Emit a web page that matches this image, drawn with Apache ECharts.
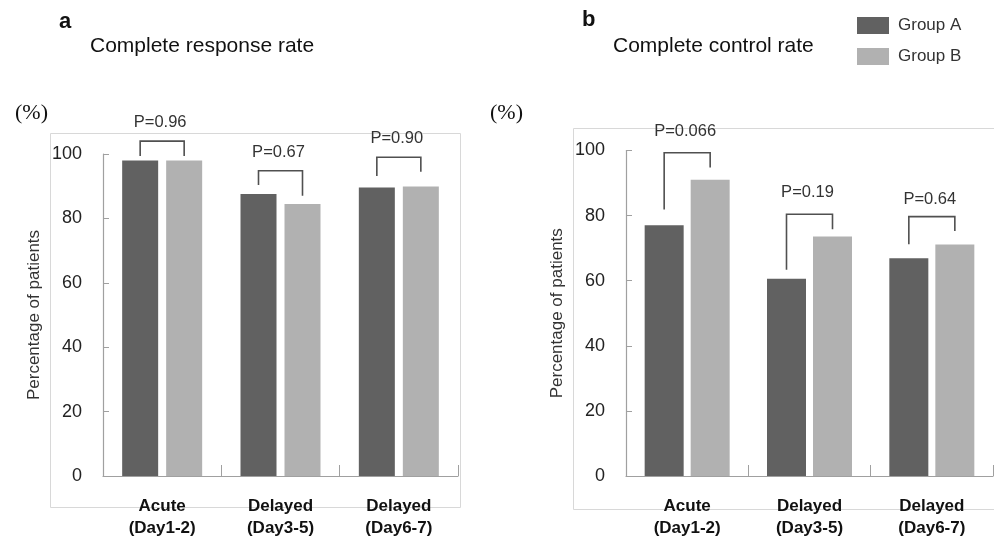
<!DOCTYPE html>
<html>
<head>
<meta charset="utf-8">
<script src="https://cdn.jsdelivr.net/npm/echarts@6/dist/echarts.min.js"></script>
<style>
html,body{margin:0;padding:0;background:#fff;}
#main{width:994px;height:539px;}
</style>
</head>
<body>
<div id="main"></div>
<script>
// ---- data ----
const categories = ['Acute\n(Day1-2)', 'Delayed\n(Day3-5)', 'Delayed\n(Day6-7)'];
const seriesNames = ['Group A', 'Group B'];
const responseA = [98, 87.6, 89.6];
const responseB = [98, 84.5, 89.9];
const controlA = [77, 60.6, 66.9];
const controlB = [91, 73.6, 71.1];
const yMin = 0, yMax = 100, yInterval = 20;

// P-value annotations (bracket levels in % units)
const responsePLabels = ['P=0.96', 'P=0.67', 'P=0.90'];
const responseBracketTop = [104, 94.8, 99.0];
const responseBracketLeftEnd = [99.4, 90.4, 93.2];
const responseBracketRightEnd = [99.4, 87.0, 94.5];
const responsePLabelLevel = [109.7, 100.4, 104.8];

const controlPLabels = ['P=0.066', 'P=0.19', 'P=0.64'];
const controlBracketTop = [99.3, 80.4, 79.7];
const controlBracketLeftEnd = [81.9, 63.4, 71.2];
const controlBracketRightEnd = [94.8, 75.8, 75.3];
const controlPLabelLevel = [105.7, 87.0, 84.9];

// ---- styles ----
const colA = '#616161', colB = '#b1b1b1';
const axisCol = '#a0a0a0';
const sans = 'Liberation Sans, Arial, sans-serif';
const BW_L = 36, GAP_L = 8, BW_R = 39, GAP_R = 7;

function bracketData(top, le, re, lv) {
  return categories.map((c, i) => [i, top[i], le[i], re[i], lv[i]]);
}
function makeRender(labels, bw, gap) {
  return function (params, api) {
    const i = api.value(0);
    const off = (bw + gap) / 2;
    const pTop = api.coord([i, api.value(1)]);
    const yL = api.coord([i, api.value(2)])[1];
    const yR = api.coord([i, api.value(3)])[1];
    const yT = api.coord([i, api.value(4)])[1];
    const cx = pTop[0];
    return {
      type: 'group',
      children: [
        {
          type: 'polyline',
          shape: { points: [[cx - off, yL], [cx - off, pTop[1]], [cx + off, pTop[1]], [cx + off, yR]] },
          style: { stroke: '#505050', lineWidth: 1.6, fill: null }
        },
        {
          type: 'text',
          style: {
            text: labels[params.dataIndex], x: cx - 2, y: yT,
            align: 'center', verticalAlign: 'middle',
            textAlign: 'center', textVerticalAlign: 'middle',
            fontSize: 16.5, fontFamily: sans, fill: '#333'
          }
        }
      ]
    };
  };
}

function xAxisCfg(gi) {
  return {
    type: 'category', gridIndex: gi, data: categories,
    axisLine: { show: true, lineStyle: { color: axisCol, width: 1.2 } },
    axisTick: { show: true, inside: true, length: 11, alignWithLabel: false, lineStyle: { color: axisCol } },
    axisLabel: { fontSize: 17, fontWeight: 'bold', color: '#111', fontFamily: sans, lineHeight: 22, margin: 19 },
    splitLine: { show: false }
  };
}
function yAxisCfg(gi) {
  return {
    type: 'value', gridIndex: gi, min: yMin, max: yMax, interval: yInterval,
    name: 'Percentage of patients', nameLocation: 'middle', nameGap: 60,
    nameTextStyle: { fontSize: 17, color: '#333', fontFamily: sans },
    axisLine: { show: true, lineStyle: { color: axisCol, width: 1.2 } },
    axisTick: { show: true, inside: true, length: 6, lineStyle: { color: axisCol } },
    axisLabel: { fontSize: 18, color: '#222', fontFamily: sans, margin: 21 },
    splitLine: { show: false }
  };
}

const chart = echarts.init(document.getElementById('main'));
chart.setOption({
  animation: false,
  backgroundColor: '#fff',
  title: [
    { text: 'a', left: 54, top: 6, textStyle: { fontSize: 22, fontWeight: 'bold', color: '#111', fontFamily: sans } },
    { text: 'Complete response rate', left: 85, top: 31, textStyle: { fontSize: 21, fontWeight: 'normal', color: '#111', fontFamily: sans } },
    { text: 'b', left: 577, top: 4, textStyle: { fontSize: 22, fontWeight: 'bold', color: '#111', fontFamily: sans } },
    { text: 'Complete control rate', left: 608, top: 31, textStyle: { fontSize: 21, fontWeight: 'normal', color: '#111', fontFamily: sans } },
    { text: '(%)', left: 10, top: 97, textStyle: { fontSize: 22, fontWeight: 'normal', color: '#111', fontFamily: 'Liberation Serif, serif' } },
    { text: '(%)', left: 485, top: 97, textStyle: { fontSize: 22, fontWeight: 'normal', color: '#111', fontFamily: 'Liberation Serif, serif' } }
  ],
  legend: {
    data: seriesNames, orient: 'vertical', left: 852, top: 12,
    itemWidth: 32, itemHeight: 17, itemGap: 14, icon: 'rect',
    textStyle: { fontSize: 17, color: '#333', fontFamily: sans, padding: [0, 0, 0, 4] }
  },
  graphic: [
    { type: 'rect', shape: { x: 50.5, y: 133.5, width: 410, height: 374 }, style: { fill: null, stroke: '#d8d8d8', lineWidth: 1 }, z: -1 },
    { type: 'rect', shape: { x: 573.5, y: 128.5, width: 425, height: 381 }, style: { fill: null, stroke: '#d8d8d8', lineWidth: 1 }, z: -1 }
  ],
  grid: [
    { left: 103, top: 154, width: 355, height: 324 },
    { left: 626, top: 150.5, width: 367, height: 328.5 }
  ],
  xAxis: [xAxisCfg(0), xAxisCfg(1)],
  yAxis: [yAxisCfg(0), yAxisCfg(1)],
  series: [
    { name: seriesNames[0], type: 'bar', xAxisIndex: 0, yAxisIndex: 0, data: responseA, barWidth: BW_L, barGap: (GAP_L / BW_L * 100) + '%', itemStyle: { color: colA } },
    { name: seriesNames[1], type: 'bar', xAxisIndex: 0, yAxisIndex: 0, data: responseB, barWidth: BW_L, barGap: (GAP_L / BW_L * 100) + '%', itemStyle: { color: colB } },
    { name: seriesNames[0], type: 'bar', xAxisIndex: 1, yAxisIndex: 1, data: controlA, barWidth: BW_R, barGap: (GAP_R / BW_R * 100) + '%', itemStyle: { color: colA } },
    { name: seriesNames[1], type: 'bar', xAxisIndex: 1, yAxisIndex: 1, data: controlB, barWidth: BW_R, barGap: (GAP_R / BW_R * 100) + '%', itemStyle: { color: colB } },
    { type: 'custom', xAxisIndex: 0, yAxisIndex: 0, clip: false, silent: true,
      data: bracketData(responseBracketTop, responseBracketLeftEnd, responseBracketRightEnd, responsePLabelLevel),
      encode: { x: 0, y: 1 }, renderItem: makeRender(responsePLabels, BW_L, GAP_L) },
    { type: 'custom', xAxisIndex: 1, yAxisIndex: 1, clip: false, silent: true,
      data: bracketData(controlBracketTop, controlBracketLeftEnd, controlBracketRightEnd, controlPLabelLevel),
      encode: { x: 0, y: 1 }, renderItem: makeRender(controlPLabels, BW_R, GAP_R) }
  ]
});
</script>
</body>
</html>
